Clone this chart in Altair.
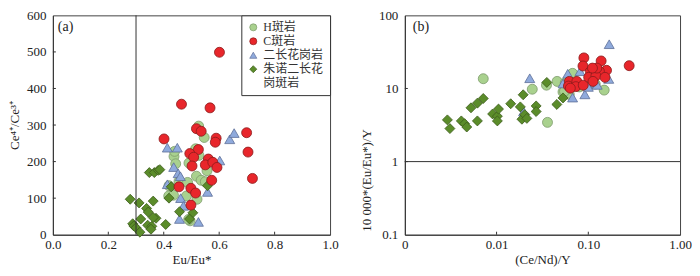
import altair as alt
import pandas as pd

groups = ["H斑岩", "C斑岩", "二长花岗岩", "朱诺二长花岗斑岩"]
fills = ["#a9d18e", "#e8262b", "#8faadc", "#5b8c2a"]
strokes = ["#7d9a6c", "#8a1c1c", "#5d6e98", "#3c5c1c"]
shapes = ["circle", "circle", "triangle-up", "diamond"]
draw_order = ["H斑岩", "二长花岗岩", "朱诺二长花岗斑岩", "C斑岩"]

# ---- panel (a): Eu/Eu* vs Ce4+/Ce3+ ----
a_h_x = [0.526, 0.546, 0.515, 0.527, 0.437, 0.443, 0.491, 0.556, 0.518, 0.535, 0.550,
         0.455, 0.419, 0.418, 0.482, 0.520, 0.435, 0.495, 0.490, 0.486, 0.439]
a_h_y = [297, 266, 235, 217, 214, 194, 196, 175, 160, 149, 145,
         146, 134, 106, 106, 97, 108, 38, 42, 143, 228]
a_c_x = [0.601, 0.464, 0.567, 0.401, 0.518, 0.535, 0.589, 0.586, 0.699, 0.525, 0.494, 0.508,
         0.502, 0.561, 0.550, 0.577, 0.592, 0.704, 0.720, 0.573, 0.455, 0.498, 0.515, 0.498]
a_c_y = [499, 357, 347, 262, 290, 283, 264, 253, 279, 233, 222, 212,
         188, 207, 191, 198, 184, 226, 154, 149, 131, 127, 114, 81]
a_t_x = [0.413, 0.449, 0.638, 0.654, 0.602, 0.436, 0.452, 0.460, 0.413, 0.461, 0.471, 0.558, 0.457, 0.525]
a_t_y = [238, 238, 261, 278, 203, 185, 168, 160, 138, 100, 79, 117, 43, 35]
a_d_x = [0.279, 0.311, 0.362, 0.338, 0.344, 0.317, 0.288, 0.292, 0.300, 0.314, 0.342, 0.357, 0.354,
         0.372, 0.362, 0.407, 0.348, 0.366, 0.380, 0.386, 0.427, 0.419, 0.457, 0.505, 0.493, 0.558]
a_d_y = [97, 87, 92, 72, 62, 43, 30, 24, 19, 7, 26, 23, 15,
         45, 47, 28, 170, 170, 176, 178, 131, 100, 63, 60, 43, 134]

# ---- panel (b): (Ce/Nd)/Y vs 10000*(Eu/Eu*)/Y ----
b_h_x = [0.00716, 0.0245, 0.035, 0.0359, 0.0457, 0.053, 0.056, 0.0597, 0.0674, 0.080,
         0.095, 0.101, 0.119, 0.149, 0.062, 0.055]
b_h_y = [13.6, 9.77, 11.1, 3.44, 12.5, 8.96, 11.9, 12.8, 16.1, 10.5,
         11.0, 11.1, 11.5, 9.5, 8.3, 9.15]
b_c_x = [0.0895, 0.0875, 0.138, 0.158, 0.279, 0.1054, 0.132, 0.0622, 0.0607, 0.075,
         0.0731, 0.088, 0.101, 0.121, 0.152, 0.1125, 0.0637, 0.124, 0.111]
b_c_y = [26.2, 20.3, 23.8, 17.7, 20.5, 17.1, 17.2, 12.5, 10.8, 12.5,
         10.6, 11.1, 14.2, 14.9, 14.2, 12.5, 10.1, 19.0, 19.0]
b_t_x = [0.169, 0.023, 0.0597, 0.0813, 0.0674, 0.0918, 0.167, 0.119, 0.053, 0.0197, 0.10, 0.125]
b_t_y = [40.3, 13.8, 15.9, 17.2, 7.5, 8.3, 13.5, 11.7, 11.7, 4.84, 10.5, 11.2]
b_d_x = [0.00291, 0.0031, 0.00413, 0.00448, 0.00473, 0.00526, 0.00618, 0.00618, 0.00716, 0.00906,
         0.0102, 0.0105, 0.0102, 0.01426, 0.0195, 0.01816, 0.0189, 0.0203, 0.0214, 0.0270,
         0.0270, 0.0353, 0.0454, 0.0530]
b_d_y = [3.72, 2.83, 3.6, 3.30, 2.97, 5.44, 6.30, 3.6, 7.3, 4.48,
         4.18, 5.23, 3.6, 6.18, 8.2, 5.6, 3.8, 4.39, 3.9, 5.77,
         4.84, 12.1, 6.05, 7.43]

a_x_ticks = [0.0, 0.2, 0.4, 0.6, 0.8, 1.0]
a_y_ticks = [0, 100, 200, 300, 400, 500, 600]
b_x_ticks = [0.001, 0.01, 0.1, 1.0]
b_y_ticks = [0.1, 1, 10, 100]
a_ref_x = 0.3
b_ref_y = 1

def frame(series):
    rows = []
    for g in draw_order:
        xs, ys = series[g]
        for x, y in zip(xs, ys):
            rows.append({"x": x, "y": y, "g": g})
    return pd.DataFrame(rows)

df_a = frame({"H斑岩": (a_h_x, a_h_y), "C斑岩": (a_c_x, a_c_y),
              "二长花岗岩": (a_t_x, a_t_y), "朱诺二长花岗斑岩": (a_d_x, a_d_y)})
df_b = frame({"H斑岩": (b_h_x, b_h_y), "C斑岩": (b_c_x, b_c_y),
              "二长花岗岩": (b_t_x, b_t_y), "朱诺二长花岗斑岩": (b_d_x, b_d_y)})

SERIF = "Liberation Serif, Noto Sans CJK SC, serif"
WA, WB, H = 278, 276, 220
TICK = 3  # inward tick length in px

legend = alt.Legend(title=None, orient="top-right", offset=0, strokeColor="#333",
                    fillColor="white", padding=6, labelFont=SERIF, labelFontSize=12,
                    labelColor="#333", symbolSize=50, rowPadding=2, symbolStrokeWidth=0.7,
                    labelExpr="datum.label == '朱诺二长花岗斑岩' ? ['朱诺二长花', '岗斑岩'] : datum.label")

def enc(leg):
    return dict(
        fill=alt.Fill("g:N", scale=alt.Scale(domain=groups, range=fills), legend=leg),
        stroke=alt.Stroke("g:N", scale=alt.Scale(domain=groups, range=strokes), legend=leg),
        shape=alt.Shape("g:N", scale=alt.Scale(domain=groups, range=shapes), legend=leg),
    )

ax_a_x = alt.Axis(values=a_x_ticks, format=".1f", title="Eu/Eu*", labelOverlap=False, labelFlush=False)
ax_a_y = alt.Axis(values=a_y_ticks, title="Ce⁴⁺/Ce³⁺", labelOverlap=False)
ax_b_x = alt.Axis(values=b_x_ticks, title="(Ce/Nd)/Y", labelOverlap=False, labelFlush=False,
                  labelExpr="datum.value < 0.005 ? '0' : datum.value < 0.05 ? '0.01' : format(datum.value, '.2f')")
ax_b_y = alt.Axis(values=b_y_ticks, title="10 000*(Eu/Eu*)/Y", labelOverlap=False,
                  labelExpr="format(datum.value, '~g')", titleY=165)
sc_a_x = alt.Scale(domain=[0, 1], nice=False)
sc_a_y = alt.Scale(domain=[0, 600], nice=False)
sc_b_x = alt.Scale(type="log", domain=[0.001, 1], nice=False)
sc_b_y = alt.Scale(type="log", domain=[0.1, 100], nice=False)

def inward_ticks(xvals, yvals, h, axx, axy, scx, scy):
    tx = alt.Chart(pd.DataFrame({"v": xvals})).mark_rule(color="#333", strokeWidth=1).encode(
        x=alt.X("v:Q", axis=axx, scale=scx), y=alt.value(h), y2=alt.value(h - TICK))
    ty = alt.Chart(pd.DataFrame({"v": yvals})).mark_rule(color="#333", strokeWidth=1).encode(
        y=alt.Y("v:Q", axis=axy, scale=scy), x=alt.value(0), x2=alt.value(TICK))
    return tx, ty

pts_a = alt.Chart(df_a).mark_point(filled=True, size=100, strokeWidth=0.8, opacity=1).encode(
    x=alt.X("x:Q", scale=sc_a_x, axis=ax_a_x),
    y=alt.Y("y:Q", scale=sc_a_y, axis=ax_a_y),
    **enc(legend)
)
rule_a = alt.Chart(pd.DataFrame({"v": [a_ref_x]})).mark_rule(color="#333", strokeWidth=1).encode(
    x=alt.X("v:Q", axis=ax_a_x, scale=sc_a_x))
lab_a = alt.Chart(pd.DataFrame({"t": ["(a)"]})).mark_text(
    font=SERIF, fontSize=14, align="left", baseline="middle", color="#222").encode(
    text="t:N", x=alt.value(5), y=alt.value(12))
tax, tay = inward_ticks(a_x_ticks[1:-1], a_y_ticks[1:-1], H, ax_a_x, ax_a_y, sc_a_x, sc_a_y)
panel_a = alt.layer(pts_a, rule_a, tax, tay, lab_a).properties(width=WA, height=H)

pts_b = alt.Chart(df_b).mark_point(filled=True, size=100, strokeWidth=0.8, opacity=1).encode(
    x=alt.X("x:Q", scale=sc_b_x, axis=ax_b_x),
    y=alt.Y("y:Q", scale=sc_b_y, axis=ax_b_y),
    **enc(None)
)
rule_b = alt.Chart(pd.DataFrame({"v": [b_ref_y]})).mark_rule(color="#333", strokeWidth=1).encode(
    y=alt.Y("v:Q", axis=ax_b_y, scale=sc_b_y))
lab_b = alt.Chart(pd.DataFrame({"t": ["(b)"]})).mark_text(
    font=SERIF, fontSize=14, align="left", baseline="middle", color="#222").encode(
    text="t:N", x=alt.value(8), y=alt.value(12))
tbx, tby = inward_ticks(b_x_ticks[1:-1], b_y_ticks[1:-1], H, ax_b_x, ax_b_y, sc_b_x, sc_b_y)
panel_b = alt.layer(pts_b, rule_b, tbx, tby, lab_b).properties(width=WB, height=H)

chart = alt.hconcat(panel_a, panel_b, spacing=21).resolve_scale(
    fill="independent", stroke="independent", shape="independent"
).resolve_legend(fill="independent", stroke="independent", shape="independent").properties(
    padding=0
).configure_view(stroke="#444", strokeWidth=1).configure_axis(
    grid=False, ticks=False, domainColor="#333",
    labelFont=SERIF, labelFontSize=13, labelColor="#222",
    titleFont=SERIF, titleFontSize=13, titleFontWeight="normal", titleColor="#222",
).configure_axisX(titlePadding=2, labelPadding=4).configure_axisY(titlePadding=5, labelPadding=7)

chart.save("out.html", embed_options={"renderer": "svg", "actions": False})
